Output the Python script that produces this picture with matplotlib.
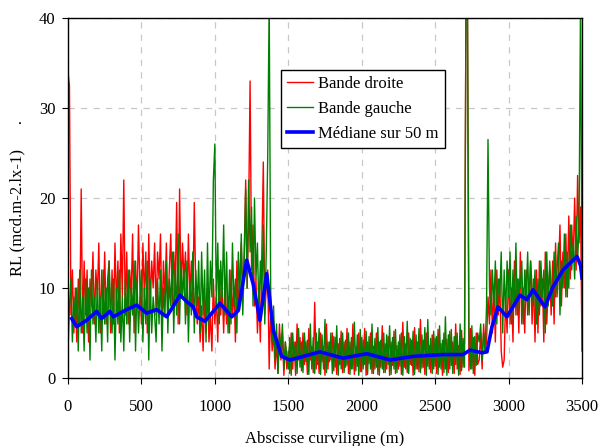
import numpy as np
import matplotlib
matplotlib.use("Agg")
import matplotlib.pyplot as plt

# --- donnees (pas de 10 m, 0 -> 3500 m) ---
x_m = np.arange(0, 3501, 10)

bande_droite = [
    34, 32.5, 7, 12, 5, 10, 4, 11, 6, 21,
    5, 13, 7, 12, 4, 11, 8, 14, 6, 12,
    9, 15, 5, 12, 7, 14, 6, 11, 13, 5,
    12, 6, 15, 8, 13, 5, 16, 9, 22, 7,
    14, 6, 12, 9, 16, 5, 13, 8, 17, 10,
    6, 15, 9, 14, 5, 16, 8, 13, 10, 15,
    7, 14, 11, 16, 6, 13, 9, 15, 7, 12,
    16, 8, 14, 10, 19.5, 6, 21, 9, 15, 11,
    14, 7, 16, 9, 13, 8, 19.5, 10, 6, 9,
    4, 8, 3, 9, 5, 10, 4, 7, 3, 11,
    6, 9, 4, 12, 7, 10, 5, 11, 6, 9,
    5, 12, 7, 10, 4, 13, 8, 11, 15, 9,
    14, 22, 10, 18, 33, 12, 17, 8, 11, 5,
    9, 4, 14, 24, 7, 10, 12, 1, 8, 3,
    5, 1, 4, 0.5, 6, 2, 5, 0.3, 4, 1,
    3, 0.5, 5, 1, 4, 0.3, 6, 2, 4.5, 0.8,
    5, 1.5, 4, 0.4, 5.5, 2, 3.5, 0.6, 8.4, 1,
    4, 0.5, 5, 1.8, 3.5, 0.3, 6, 1, 4, 2,
    5, 0.8, 4.5, 0.4, 3.8, 1.5, 5.2, 0.6, 4, 1.2,
    5.5, 0.5, 4, 1, 6, 0.4, 3.5, 1.3, 5, 0.7,
    4.5, 1, 5.5, 0.3, 4, 1.6, 5, 0.5, 3.5, 1,
    5, 0.4, 4, 1.2, 5.8, 0.6, 3.8, 1, 4.6, 0.3,
    4, 1.4, 5.2, 0.5, 3.6, 1, 4.8, 0.4, 6.2, 1.2,
    3.8, 0.6, 5, 1.5, 4.2, 0.3, 5.6, 1, 4, 0.7,
    6.5, 1.1, 4.2, 0.4, 5, 1.3, 3.6, 0.6, 4.8, 1,
    4.4, 0.5, 5.4, 1.2, 3.8, 0.3, 5, 1, 4.3, 0.6,
    5.2, 1.4, 4, 0.5, 6, 1, 3.6, 0.4, 5.3, 1.2,
    4, 42, 42, 0.8, 5.5, 1, 4.5, 0.3, 5, 1.5,
    2, 5, 1, 6, 3, 4, 9, 6, 12, 5,
    10, 4, 12, 7, 11, 3, 1.2, 2, 9, 5,
    12, 6, 10, 4, 13, 7, 11, 5, 14, 6,
    10, 5, 12, 7, 9, 13, 6, 11, 4, 12,
    5, 13, 8, 11, 4, 14, 6, 10, 12, 7,
    13, 6, 15, 9, 12, 17, 8, 14, 10, 16,
    9, 18, 11, 17, 13, 20, 12, 22.5, 15, 19,
    3,
]

bande_gauche = [
    3, 8, 11, 4, 9, 6, 10, 3, 12, 5,
    9, 3, 11, 5, 10, 2, 12, 6, 9, 4,
    11, 5, 9, 3, 12, 6, 10, 4, 13, 7,
    5, 11, 2, 10, 6, 12, 4, 9, 3, 11,
    6, 12, 4, 10, 7, 13, 3, 11, 5, 9,
    12, 4, 10, 6, 13, 2, 11, 5, 9, 7,
    4, 11, 6, 12, 3, 10, 7, 13, 5, 11,
    8, 14, 5, 12, 7, 16, 6, 13, 9, 12,
    6, 13, 4, 11, 7, 14, 5, 12, 8, 13,
    5, 14, 7, 12, 4, 15, 6, 13, 9, 22,
    26, 8, 15, 6, 13, 9, 17, 7, 14, 5,
    12, 6, 15, 8, 11, 5, 14, 9, 16, 7,
    13, 21, 10, 22, 14, 19, 8, 20, 11, 15,
    7, 13, 9, 17, 6, 14, 24.5, 42, 10, 4,
    8, 2, 6, 0.5, 5, 3, 6, 1, 4, 2.5,
    1, 4.5, 0.3, 5, 2, 4, 0.5, 5.5, 1.2, 4,
    0.6, 5, 1.8, 4.2, 0.4, 6, 1, 4.5, 0.5, 5,
    1.5, 5.5, 0.4, 4.8, 1, 6.5, 0.6, 4, 1.8, 5,
    0.5, 4.6, 1.2, 5.8, 0.3, 4.4, 1, 5, 0.6, 4.2,
    1.4, 5, 0.4, 4.5, 1, 6.2, 0.8, 4.8, 0.3, 5.4,
    0.7, 4.2, 1.5, 5.2, 0.4, 4.6, 1, 6, 0.5, 4.4,
    1.2, 5.6, 0.3, 4.2, 1, 5, 0.6, 4.8, 1.5, 5.8,
    0.4, 4.5, 1, 5.4, 0.6, 4, 1.3, 5, 0.3, 4.6,
    1, 6.3, 0.5, 4.4, 1.4, 5.2, 0.4, 4.8, 1, 5.5,
    0.6, 4.8, 1.2, 5.6, 0.3, 6.5, 1, 4.4, 0.5, 5.2,
    1.3, 4.6, 0.4, 5.8, 1, 4.2, 0.6, 6.8, 0.3, 4.8,
    1, 5.4, 0.5, 4.6, 1.5, 5, 0.3, 6, 0.8, 4.4,
    1.2, 42, 42, 5, 1, 5.8, 0.5, 4.6, 1.4, 5,
    4, 6, 2, 5, 3, 8, 26.5, 10, 7, 12,
    8, 13, 6, 11, 9, 14, 5, 12, 7, 13,
    9, 14, 6, 12, 8, 15, 7, 11, 10, 13,
    6, 12, 9, 14, 7, 13, 10, 8, 12, 6,
    11, 7, 13, 9, 12, 5, 14, 8, 13, 10,
    8, 14, 9, 12, 15, 7, 13, 10, 16, 9,
    14, 10, 17, 12, 15, 11, 18, 13, 17, 42,
    10,
]

# mediane glissante sur 50 m (points releves)
med_x = [25, 59, 127, 195, 229, 286, 309, 400, 468, 536, 604, 672, 763,
         808, 853, 876, 933, 1035, 1115, 1160, 1217, 1260, 1307, 1353,
         1398, 1455, 1512, 1580, 1716, 1873, 2035, 2193, 2350, 2553,
         2690, 2737, 2819, 2853, 2887, 2928, 2989, 3078, 3125, 3166,
         3248, 3302, 3371, 3466, 3490, 3500]
med_y = [6.6, 5.7, 6.4, 7.4, 6.6, 7.4, 6.8, 7.6, 8.1, 7.2, 7.6, 6.8, 9.2,
         8.5, 7.9, 6.8, 6.3, 8.3, 6.8, 7.5, 13.1, 10.5, 6.4, 11.6,
         5.3, 2.4, 2.0, 2.3, 2.9, 2.2, 2.7, 2.0, 2.4, 2.6,
         2.6, 3.1, 2.8, 2.9, 5.7, 7.9, 6.8, 9.2, 8.7, 9.8,
         7.9, 10.1, 12.0, 13.5, 12.5, 11.1]

plt.rcParams["font.family"] = ["Liberation Serif", "DejaVu Serif"]

fig = plt.figure(figsize=(6, 4.46), dpi=100)
ax = fig.add_axes([0.1133, 0.1525, 0.8567, 0.8071])

ax.plot(x_m, bande_droite, color="#ff0000", lw=1.0, label="Bande droite")
ax.plot(x_m, bande_gauche, color="#008000", lw=1.0, label="Bande gauche")
ax.plot(med_x, med_y, color="#0000ff", lw=2.6, label="Médiane sur 50 m")

ax.set_xlim(0, 3500)
ax.set_ylim(0, 40)
ax.set_xticks(range(0, 3501, 500))
ax.set_yticks(range(0, 41, 10))
ax.grid(True, color="#c8c8c8", linestyle=(0, (5, 5)), lw=0.9)
ax.set_axisbelow(True)
ax.tick_params(labelsize=12, length=4, direction="out", pad=5)
ax.tick_params(axis="x", pad=11)
for s in ax.spines.values():
    s.set_linewidth(1)
    s.set_color("black")

ax.set_xlabel("Abscisse curviligne (m)", fontsize=12, labelpad=12)
ax.set_ylabel("RL (mcd.m-2.lx-1)      .", fontsize=12, labelpad=10)

leg = ax.legend(loc="upper left", bbox_to_anchor=(0.414, 0.856),
                fontsize=12, frameon=True, fancybox=False,
                edgecolor="black", framealpha=1, handlelength=1.55,
                handletextpad=0.3, labelspacing=0.52, borderpad=0.38,
                borderaxespad=0)
leg.get_frame().set_linewidth(1)

fig.savefig("out.png", dpi=100)
